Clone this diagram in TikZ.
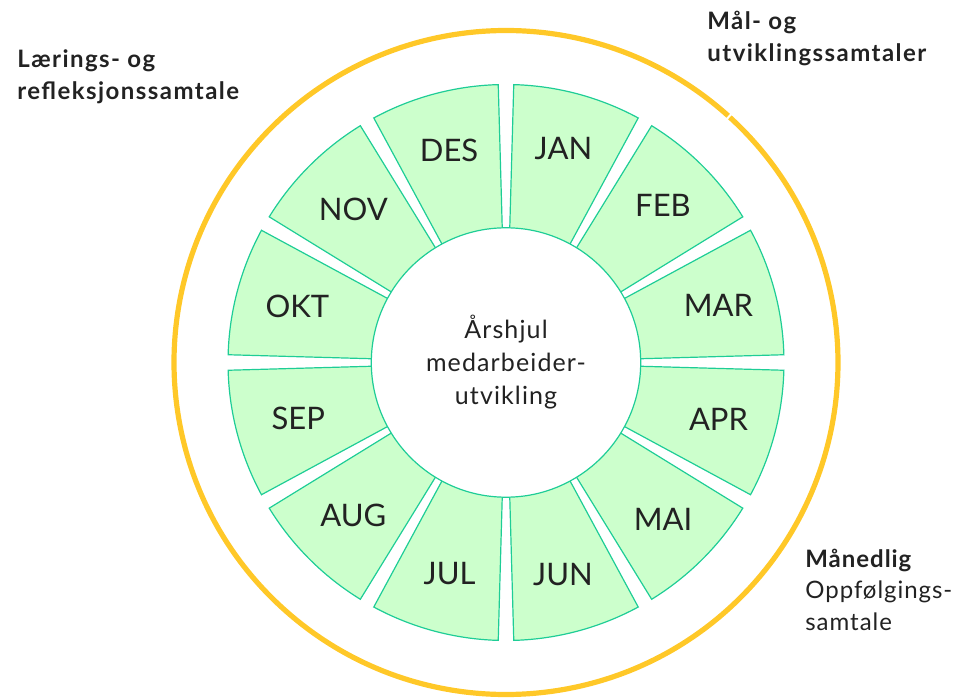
\documentclass[tikz,border=0pt]{standalone}
\usepackage{fontspec}
\setmainfont{Lato}
\newfontfamily\talkfont[LetterSpace=6]{Lato}
\newfontfamily\notefont[LetterSpace=4]{Lato}
\newfontfamily\hubfont[LetterSpace=4.5]{Lato}
\definecolor{wheelgreen}{RGB}{204,255,204}
\definecolor{wheelteal}{RGB}{30,205,150}
\definecolor{ringyellow}{RGB}{255,200,40}
\definecolor{labelgray}{RGB}{34,34,34}

\begin{document}
\begin{tikzpicture}[
  x=0.5pt, y=0.5pt,
  seg/.style={draw=wheelteal, line width=0.6pt, fill=wheelgreen},
  month/.style={font=\fontsize{15.5}{18}\selectfont, text=labelgray},
  hub/.style={circle, draw=wheelteal, line width=0.6pt, fill=white, minimum size=134.7pt, inner sep=0pt, align=center, text=labelgray, font=\hubfont\fontsize{12.5}{16.5}\selectfont},
  ring/.style={draw=ringyellow, line width=2.6pt},
  talk/.style={anchor=base west, align=left, inner sep=0pt, text=labelgray, font=\talkfont\fontsize{12}{16}\selectfont},
]
\useasboundingbox (0,0) rectangle (958,697);

\begin{scope}[shift={(506,334.5)}]
% yellow ring, small break at upper right
\draw[ring] (48:332) arc[start angle=48, end angle=407.6, radius=332];

% month segments
\draw[seg] (1.6:130) -- (1.6:278) arc[start angle=1.6, end angle=28.4, radius=278] -- (28.4:130) arc[start angle=28.4, end angle=1.6, radius=130] -- cycle;
\draw[seg] (31.6:130) -- (31.6:278) arc[start angle=31.6, end angle=58.4, radius=278] -- (58.4:130) arc[start angle=58.4, end angle=31.6, radius=130] -- cycle;
\draw[seg] (61.6:130) -- (61.6:278) arc[start angle=61.6, end angle=88.4, radius=278] -- (88.4:130) arc[start angle=88.4, end angle=61.6, radius=130] -- cycle;
\draw[seg] (91.6:130) -- (91.6:278) arc[start angle=91.6, end angle=118.4, radius=278] -- (118.4:130) arc[start angle=118.4, end angle=91.6, radius=130] -- cycle;
\draw[seg] (121.6:130) -- (121.6:278) arc[start angle=121.6, end angle=148.4, radius=278] -- (148.4:130) arc[start angle=148.4, end angle=121.6, radius=130] -- cycle;
\draw[seg] (151.6:130) -- (151.6:278) arc[start angle=151.6, end angle=178.4, radius=278] -- (178.4:130) arc[start angle=178.4, end angle=151.6, radius=130] -- cycle;
\draw[seg] (181.6:130) -- (181.6:278) arc[start angle=181.6, end angle=208.4, radius=278] -- (208.4:130) arc[start angle=208.4, end angle=181.6, radius=130] -- cycle;
\draw[seg] (211.6:130) -- (211.6:278) arc[start angle=211.6, end angle=238.4, radius=278] -- (238.4:130) arc[start angle=238.4, end angle=211.6, radius=130] -- cycle;
\draw[seg] (241.6:130) -- (241.6:278) arc[start angle=241.6, end angle=268.4, radius=278] -- (268.4:130) arc[start angle=268.4, end angle=241.6, radius=130] -- cycle;
\draw[seg] (271.6:130) -- (271.6:278) arc[start angle=271.6, end angle=298.4, radius=278] -- (298.4:130) arc[start angle=298.4, end angle=271.6, radius=130] -- cycle;
\draw[seg] (301.6:130) -- (301.6:278) arc[start angle=301.6, end angle=328.4, radius=278] -- (328.4:130) arc[start angle=328.4, end angle=301.6, radius=130] -- cycle;
\draw[seg] (331.6:130) -- (331.6:278) arc[start angle=331.6, end angle=358.4, radius=278] -- (358.4:130) arc[start angle=358.4, end angle=331.6, radius=130] -- cycle;

\node[month] (jan) at (75:222) {JAN};
\node[month] (feb) at (45:222) {FEB};
\node[month] (mar) at (15:220) {MAR};
\node[month] (apr) at (-15:220) {APR};
\node[month] (mai) at (-45:222) {MAI};
\node[month] (jun) at (-75:220) {JUN};
\node[month] (jul) at (-105:218) {JUL};
\node[month] (aug) at (-135:216) {AUG};
\node[month] (sep) at (-165:215) {SEP};
\node[month] (okt) at (165:216) {OKT};
\node[month] (nov) at (135:216) {NOV};
\node[month] (des) at (105:220) {DES};

\node[hub] (hub) at (0,0) {Årshjul\\medarbeider-\\utvikling};
\end{scope}

% talk labels, placed by the baseline of their last line
\node[talk] (laering) at (17,597) {\bfseries Lærings- og\\\bfseries refleksjonssamtale};
\node[talk] (maal) at (707,635.3) {\bfseries Mål- og\\\bfseries utviklingssamtaler};
\node[talk, font=\notefont\fontsize{12}{15.75}\selectfont] (maanedlig) at (805,67) {\textbf{Månedlig}\\Oppfølgings-\\samtale};
\end{tikzpicture}
\end{document}
